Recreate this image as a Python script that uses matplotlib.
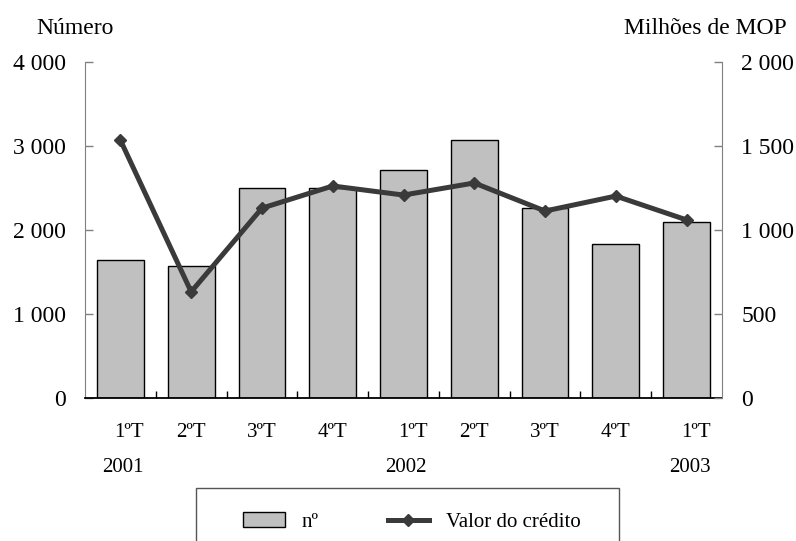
import matplotlib
matplotlib.use("Agg")
import matplotlib.pyplot as plt
import matplotlib.transforms as mtransforms
from matplotlib.patches import Rectangle
from matplotlib.ticker import FuncFormatter, FixedLocator

# ================= DATA ================= #
QUARTERS = ["1ºT", "2ºT", "3ºT", "4ºT", "1ºT", "2ºT", "3ºT", "4ºT", "1ºT"]
YEARS = {0: "2001", 4: "2002", 8: "2003"}
NUMERO = [1645, 1572, 2495, 2500, 2715, 3068, 2260, 1835, 2093]
VALOR = [1535, 632, 1130, 1262, 1208, 1280, 1113, 1202, 1060]

# ================= THEME ================= #
FONT = "Liberation Serif"
BAR_COLOR = "#c0c0c0"
LINE_COLOR = "#3a3a3a"
SPINE_GRAY = "#808080"

plt.rcParams["font.family"] = [FONT, "DejaVu Serif"]

def thousands(v, pos=None):
    return f"{v:,.0f}".replace(",", " ")

# ================= FIGURE ================= #
fig = plt.figure(figsize=(7.96, 5.41), dpi=100, facecolor="white")
ax = fig.add_axes([85/796, 1 - 398/541, (722-85)/796, (398-62)/541])
ax2 = ax.twinx()

x = list(range(len(QUARTERS)))
ax.bar(x, NUMERO, width=0.66, color=BAR_COLOR, edgecolor="black", linewidth=1.0,
       label="nº")
ax2.plot(x, VALOR, color=LINE_COLOR, linewidth=3.6, marker="D", markersize=6.5,
         label="Valor do crédito")

# ---- axes ranges ----
ax.set_xlim(-0.5, len(QUARTERS) - 0.5)
ax.set_ylim(0, 4000)
ax2.set_ylim(0, 2000)
ax.set_yticks(range(0, 4001, 1000))
ax2.set_yticks(range(0, 2001, 500))
ax.yaxis.set_major_formatter(FuncFormatter(thousands))
ax2.yaxis.set_major_formatter(FuncFormatter(thousands))

# ---- spines ----
for a in (ax, ax2):
    a.spines["top"].set_visible(False)
ax.spines["right"].set_visible(False)
ax2.spines["left"].set_visible(False)
ax2.spines["bottom"].set_visible(False)
ax.spines["left"].set_color(SPINE_GRAY)
ax2.spines["right"].set_color(SPINE_GRAY)
ax.spines["bottom"].set_color("black")
ax.spines["bottom"].set_linewidth(1.3)

ax.tick_params(axis="y", direction="in", length=6, width=1, color=SPINE_GRAY,
               pad=14, labelsize=17)
ax2.tick_params(axis="y", direction="in", length=6, width=1, color=SPINE_GRAY,
                pad=14, labelsize=17)

# ---- x axis: quarter labels, minor separators ----
ax.set_xticks(x)
ax.set_xticklabels(QUARTERS, fontsize=15)
ax.tick_params(axis="x", which="major", length=0, pad=25)
ax.xaxis.set_minor_locator(FixedLocator([i + 0.5 for i in x[:-1]]))
ax.tick_params(axis="x", which="minor", direction="in", length=5, width=1, color="black")
for i, lbl in enumerate(ax.get_xticklabels()):
    lbl.set_va("center")
    if QUARTERS[i] == "1ºT":
        lbl.set_transform(lbl.get_transform() +
                          mtransforms.ScaledTranslation(9/100, 0, fig.dpi_scale_trans))

trans = mtransforms.blended_transform_factory(ax.transData, ax.transAxes)
for i, yr in YEARS.items():
    ax.text(i + 0.04, -70/336, yr, transform=trans, ha="center", va="center", fontsize=15)

# ---- axis titles ----
fig.text(75/796, 1 - 28/541, "Número", ha="center", va="center", fontsize=17)
fig.text(787/796, 1 - 28/541, "Milhões de MOP", ha="right", va="center", fontsize=17)

# ---- legend ----
h1, l1 = ax.get_legend_handles_labels()
h2, l2 = ax2.get_legend_handles_labels()
fig.legend(h1 + h2, l1 + l2, loc="center", bbox_to_anchor=(412/796, 1 - 522/541),
           ncol=2, frameon=False, fontsize=15, handlelength=2.0, handletextpad=0.8,
           columnspacing=3.3)
fig.patches.append(Rectangle((196/796, -0.05), (619-196)/796, 0.05 + 1 - 488/541,
                             transform=fig.transFigure, fill=False,
                             edgecolor="#555555", linewidth=1.0))

fig.savefig("out.png", dpi=100, facecolor="white")
